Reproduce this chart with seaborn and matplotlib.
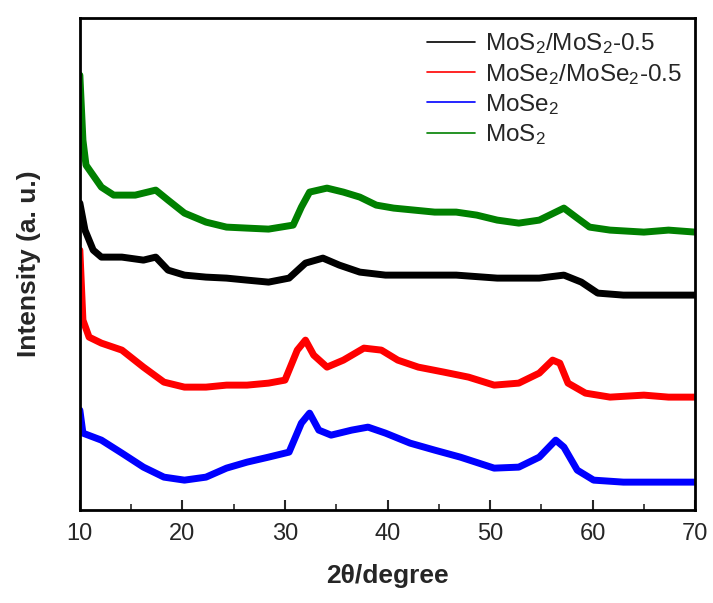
import numpy as np
import pandas as pd
import matplotlib
matplotlib.use("Agg")
import matplotlib.pyplot as plt
from matplotlib import font_manager
from matplotlib.ticker import MultipleLocator
import seaborn as sns

# ---- data (arbitrary intensity units) ----
labels = ["MoS$_2$/MoS$_2$-0.5", "MoSe$_2$/MoSe$_2$-0.5", "MoSe$_2$", "MoS$_2$"]
colors = ["#000000", "#ff0000", "#0000ff", "#008000"]

tt_black = [10.0, 10.5, 11.3, 12.1, 14.1, 16.2, 17.4, 18.6, 20.2, 22.3, 24.3, 26.3, 28.4, 30.4,
            32.0, 33.7, 35.3, 37.3, 39.8, 42.6, 46.7, 50.7, 54.8, 57.2, 58.9, 60.5, 63.0, 67.0, 70.0]
int_black = [307, 280, 260, 253, 253, 250, 253, 240, 235, 233, 232, 230, 228, 232,
             247, 252, 245, 238, 235, 235, 235, 232, 232, 235, 228, 217, 215, 215, 215]

tt_red = [10.0, 10.3, 10.9, 12.1, 14.1, 16.2, 18.2, 20.2, 22.3, 24.3, 26.3, 28.4, 30.0, 31.2,
          32.0, 32.8, 34.1, 35.7, 37.7, 39.4, 41.0, 43.0, 45.5, 47.9, 50.4, 52.8, 54.8, 56.1,
          56.8, 57.6, 59.3, 61.7, 65.0, 67.4, 70.0]
int_red = [260, 190, 173, 167, 160, 143, 128, 123, 123, 125, 125, 127, 130, 160,
           170, 155, 143, 150, 162, 160, 150, 143, 138, 133, 125, 127, 137, 150,
           147, 127, 117, 113, 115, 113, 113]

tt_blue = [10.0, 10.3, 12.1, 14.1, 16.2, 18.2, 20.2, 22.3, 24.3, 26.3, 28.4, 30.4, 31.6, 32.4,
           33.3, 34.5, 36.5, 38.1, 39.8, 42.2, 44.6, 47.1, 50.4, 52.8, 54.8, 56.4, 57.2, 58.5,
           60.1, 63.0, 67.0, 70.0]
int_blue = [100, 77, 70, 57, 43, 33, 30, 33, 42, 48, 53, 58, 87, 97,
            80, 75, 80, 83, 77, 67, 60, 53, 42, 43, 53, 70, 63, 40,
            30, 28, 28, 28]

tt_green = [10.0, 10.3, 10.6, 12.1, 13.3, 15.4, 17.4, 18.6, 20.2, 22.3, 24.3, 26.3, 28.4, 30.8,
            31.6, 32.4, 34.1, 35.7, 37.3, 38.9, 40.6, 42.6, 44.6, 46.7, 48.7, 50.7, 52.8, 54.8,
            56.4, 57.2, 58.5, 59.7, 61.7, 65.0, 67.4, 70.0]
int_green = [435, 370, 345, 323, 315, 315, 320, 310, 297, 288, 283, 282, 281, 285,
             303, 318, 322, 318, 313, 305, 302, 300, 298, 298, 295, 290, 287, 290,
             298, 302, 292, 283, 280, 278, 280, 278]

series = [(tt_black, int_black), (tt_red, int_red), (tt_blue, int_blue), (tt_green, int_green)]

frames = []
for lab, (tt, iv) in zip(labels, series):
    frames.append(pd.DataFrame({"two_theta": tt, "intensity": iv, "sample": lab}))
df = pd.concat(frames, ignore_index=True)

# ---- style ----
sns.set_style("white")
avail = {f.name for f in font_manager.fontManager.ttflist}
narrow = "Liberation Sans Narrow" if "Liberation Sans Narrow" in avail else "Liberation Sans"
plt.rcParams["font.family"] = [narrow, "DejaVu Sans"]
plt.rcParams["mathtext.fontset"] = "custom"
plt.rcParams["mathtext.rm"] = narrow
plt.rcParams["mathtext.it"] = narrow
plt.rcParams["mathtext.bf"] = narrow

fig = plt.figure(figsize=(7.13, 6.03), dpi=100)
ax = fig.add_axes([0.112, 0.154, 0.863, 0.816])

sns.lineplot(data=df, x="two_theta", y="intensity", hue="sample", hue_order=labels,
             palette=colors, linewidth=5, ax=ax, sort=False, estimator=None)

ax.set_xlim(10, 70)
ax.set_ylim(0, 492)
ax.xaxis.set_major_locator(MultipleLocator(10))
ax.xaxis.set_minor_locator(MultipleLocator(5))
ax.set_yticks([])
ax.tick_params(axis="x", which="major", direction="in", length=7, width=1.5,
               labelsize=17, pad=9, bottom=True, top=False)
ax.tick_params(axis="x", which="minor", direction="in", length=4, width=1.2,
               bottom=True, top=False)
for sp in ax.spines.values():
    sp.set_linewidth(2)
    sp.set_color("black")

ax.set_xlabel("2θ/degree", fontsize=19, fontweight="bold",
              family=["Liberation Sans", "DejaVu Sans"], labelpad=14)
ax.set_ylabel("Intensity (a. u.)", fontsize=19, fontweight="bold",
              family=["Liberation Sans", "DejaVu Sans"], labelpad=28)

handles, labs = ax.get_legend_handles_labels()
for h in handles:
    h.set_linewidth(1.2)
leg = ax.legend(handles, labs, loc="upper right", frameon=False, fontsize=17.5,
                handlelength=2.0, handletextpad=0.4, labelspacing=0.22,
                bbox_to_anchor=(1.0, 1.0), borderaxespad=0.15)

fig.savefig("out.png", dpi=100)
